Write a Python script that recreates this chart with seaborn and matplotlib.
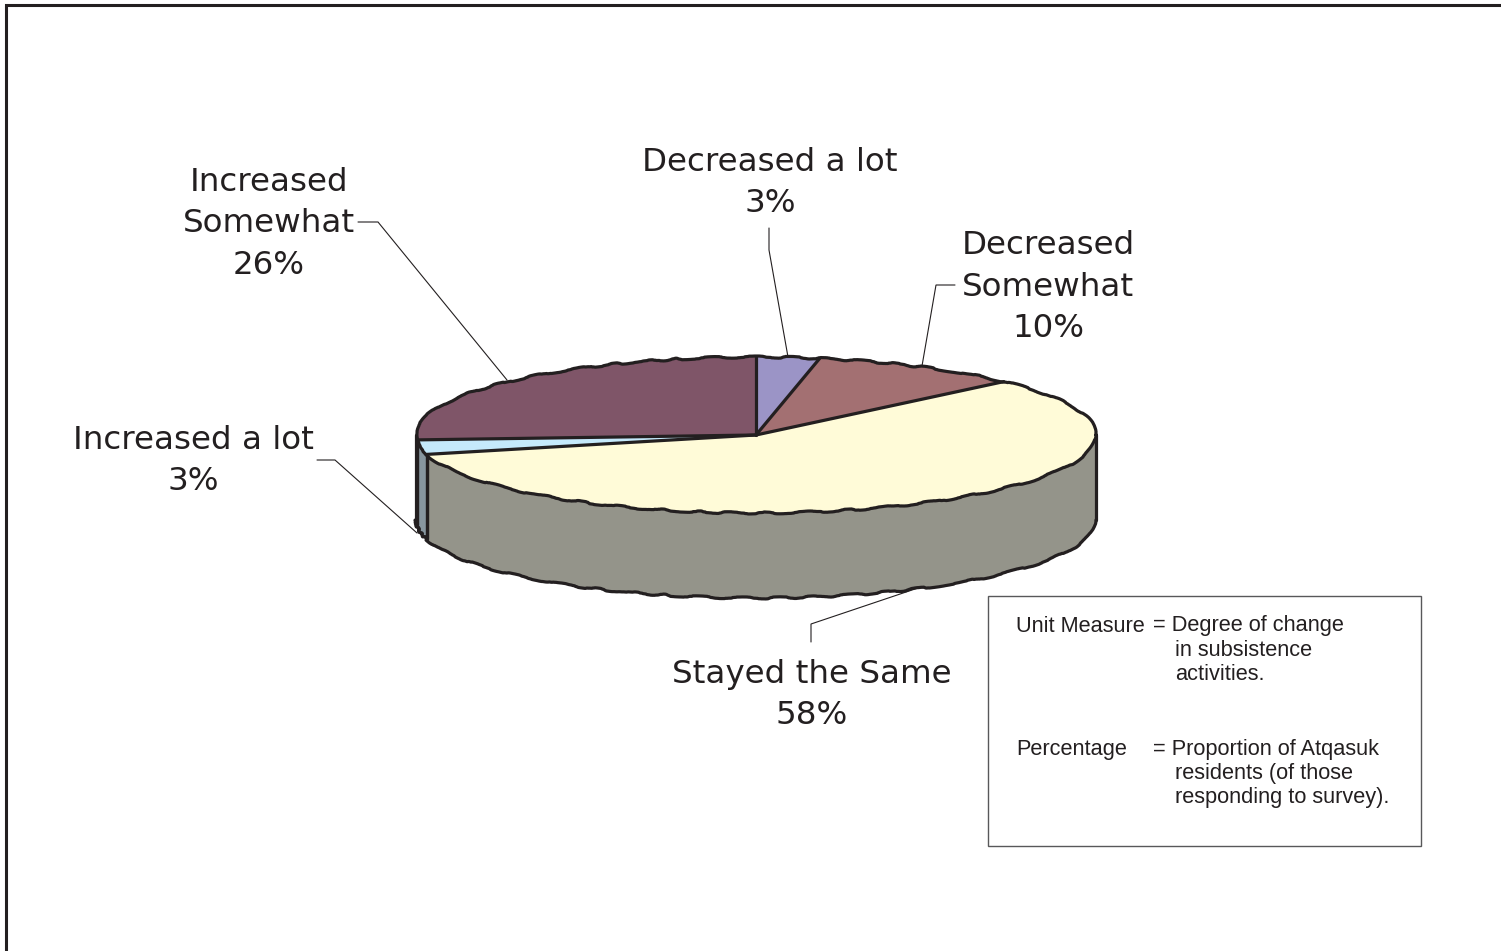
import numpy as np
import matplotlib
matplotlib.use("Agg")
import matplotlib.pyplot as plt
import seaborn as sns

categories = ["Decreased a lot", "Decreased Somewhat", "Stayed the Same", "Increased a lot", "Increased Somewhat"]
values = [3, 10, 58, 3, 26]
top_colors = ["#9b94c6", "#a37072", "#fffbd8", "#c5e9fb", "#7f5568"]
wall_colors = ["#6b6689", "#7a5557", "#94948a", "#87969f", "#5f4050"]
note_left = ["Unit Measure", "Percentage"]
note_right = [["Degree of change", "in subsistence", "activities."],
              ["Proportion of Atqasuk", "residents (of those", "responding to survey)."]]

sns.set_theme(style="white")
W, H = 1501, 951
fig = plt.figure(figsize=(W / 100, H / 100), dpi=100, facecolor="white")
EDGE = "#231f20"
LABEL_FONT = ["DejaVu Sans"]
NOTE_FONT = ["Liberation Sans"]
LW = 2.3
SKETCH = (1.0, 75, 8)

ov = fig.add_axes([0, 0, 1, 1], zorder=3)
ov.set_xlim(0, W)
ov.set_ylim(H, 0)
ov.axis("off")
ov.patch.set_alpha(0)

cx, cy, rx, ry, depth_px = 756, 435, 340, 78, 85
ax = fig.add_axes([(cx - rx) / W, (H - cy - ry) / H, 2 * rx / W, 2 * ry / H], zorder=2)
wedges, _ = ax.pie(values, colors=top_colors, startangle=90, counterclock=False, radius=1,
                   wedgeprops=dict(edgecolor="none", linewidth=0))
ax.set_aspect("auto")
ax.set_xlim(-1, 1)
ax.set_ylim(-1, 1)
ax.axis("off")
for w in wedges:
    w.set_clip_on(False)
    w.set_zorder(5)

edges = 90 - np.cumsum([0] + values) / sum(values) * 360

# wall of the disc, from the slice shares
depth = depth_px / ry
for a0, a1, col in zip(edges[:-1], edges[1:], wall_colors):
    lo, hi = max(a1, -180), min(a0, 0)
    if hi <= lo:
        continue
    t = np.radians(np.linspace(hi, lo, 120))
    xs, ys = np.cos(t), np.sin(t)
    ax.fill(np.r_[xs, xs[::-1]], np.r_[ys, ys[::-1] - depth], facecolor=col, edgecolor="none",
            clip_on=False, zorder=3)
    ax.plot([xs[0], xs[0]], [ys[0], ys[0] - depth], color=EDGE, lw=LW, clip_on=False, zorder=4)
    ax.plot([xs[-1], xs[-1]], [ys[-1], ys[-1] - depth], color=EDGE, lw=LW, clip_on=False, zorder=4)
    rim, = ax.plot(xs, ys - depth, color=EDGE, lw=LW, clip_on=False, zorder=4)
    rim.set_sketch_params(*SKETCH)

# rim of the top face and the radial slice borders
t = np.radians(np.linspace(0, 360, 721))
rim, = ax.plot(np.cos(t), np.sin(t), color=EDGE, lw=LW, clip_on=False, zorder=6)
rim.set_sketch_params(*SKETCH)
for a in edges[:-1]:
    ax.plot([0, np.cos(np.radians(a))], [0, np.sin(np.radians(a))], color=EDGE, lw=LW,
            clip_on=False, zorder=6, solid_capstyle="round")

labels = [
    ("Decreased a lot\n{}%", 0, 770, 183),
    ("Decreased\nSomewhat\n{}%", 1, 1048, 287),
    ("Stayed the Same\n{}%", 2, 812, 695),
    ("Increased a lot\n{}%", 3, 193, 461),
    ("Increased\nSomewhat\n{}%", 4, 269, 224),
]
for tmpl, i, x, y in labels:
    ov.text(x, y, tmpl.format(values[i]), ha="center", va="center", multialignment="center",
            fontsize=23.4, family=LABEL_FONT, color="#231f20", linespacing=1.42)

leaders = [
    ([769, 769, 788], [228, 250, 357]),
    ([955, 936, 922], [285, 285, 366]),
    ([811, 811, 918], [642, 624, 588]),
    ([317, 335, 417], [460, 460, 533]),
    ([358, 378, 507], [222, 222, 380]),
]
for xs, ys in leaders:
    ov.plot(xs, ys, color="#231f20", lw=0.8, solid_joinstyle="miter")

ov.plot([6, 6, W], [H, 5, 5], color=EDGE, lw=2.2, solid_joinstyle="miter", clip_on=False)

ov.add_patch(plt.Rectangle((987.7, 595.7), 433, 250, facecolor="white", edgecolor="#58585a", lw=1))
nk = dict(fontsize=15.7, family=NOTE_FONT, color="#231f20", va="center", ha="left")
ov.text(1016.5, 626, note_left[0], **nk)
ov.text(1016.5, 749, note_left[1], **nk)
ov.text(1153, 626, "= " + note_right[0][0], **nk)
ov.text(1153, 749, "= " + note_right[1][0], **nk)
for y, s in zip([651, 675], note_right[0][1:]):
    ov.text(1175, y, s, **nk)
for y, s in zip([773, 798], note_right[1][1:]):
    ov.text(1175, y, s, **nk)

fig.savefig("out.png", dpi=100, facecolor="white")
